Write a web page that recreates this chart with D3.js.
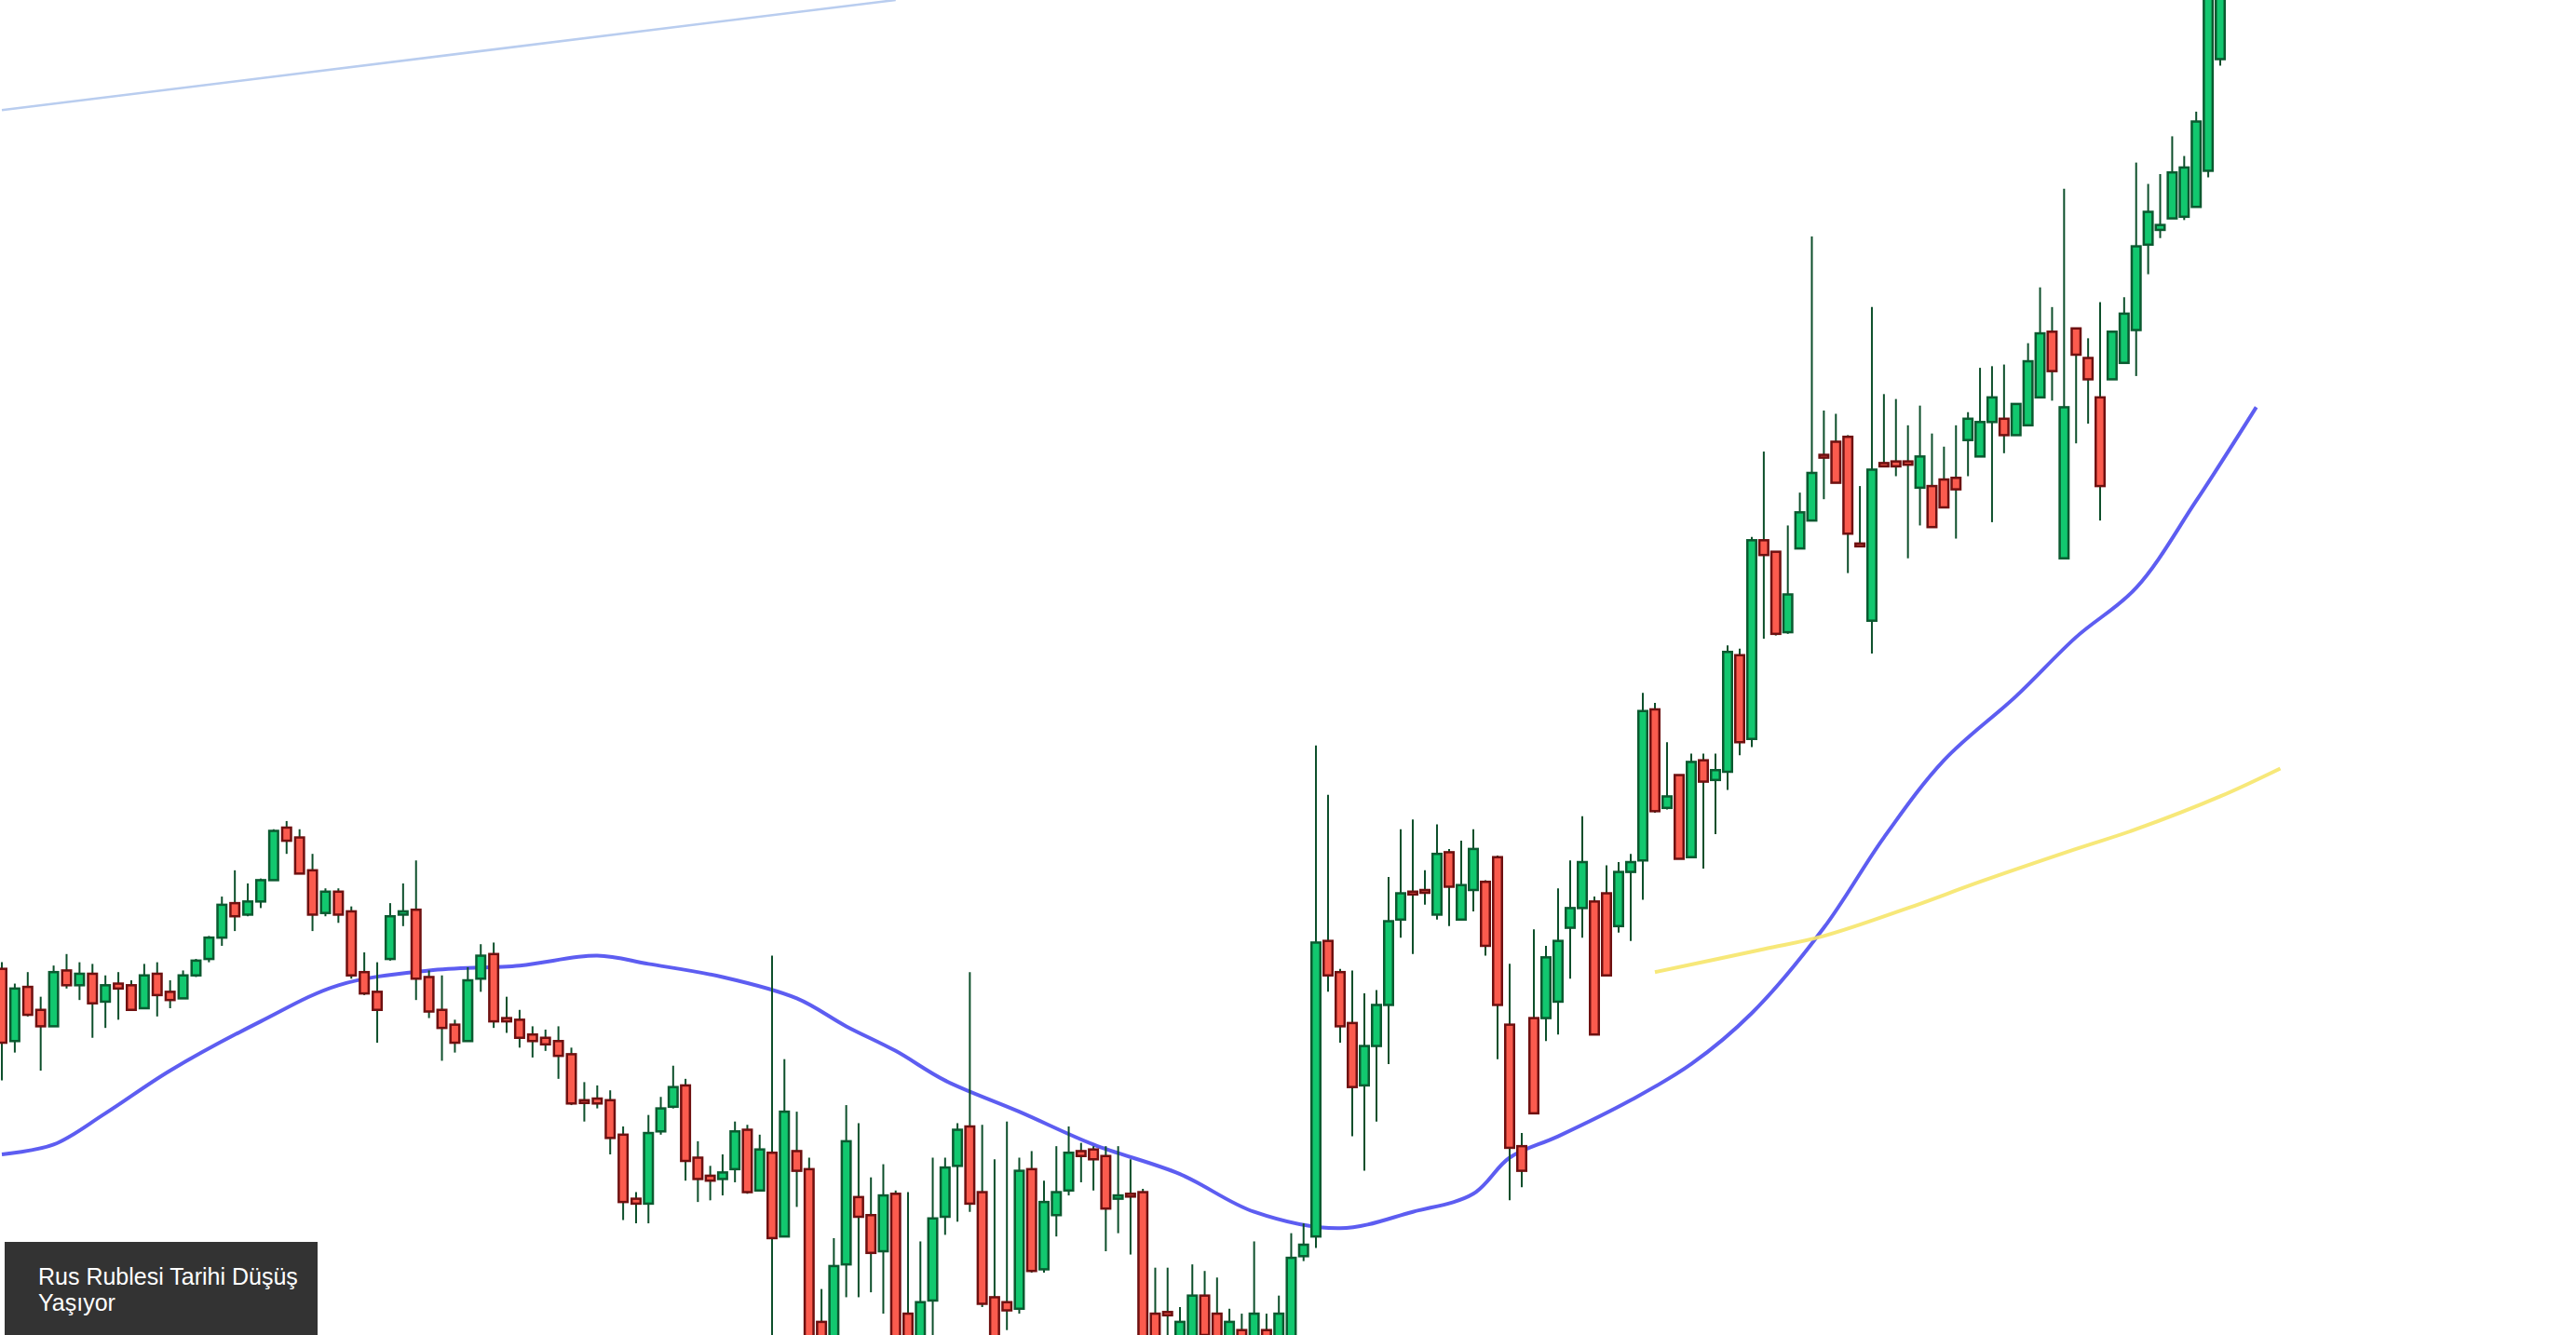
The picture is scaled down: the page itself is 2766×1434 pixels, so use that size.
<!DOCTYPE html>
<html>
<head>
<meta charset="utf-8">
<script src="https://cdn.jsdelivr.net/npm/d3@7"></script>
<style>
  html, body { margin: 0; padding: 0; background: #fff; overflow: hidden; }
  svg { display: block; }
</style>
</head>
<body>
<svg id="chart" width="2766" height="1434"></svg>
<script>
// daily candles
const opens = [91.0,86.6,89.9,88.5,87.5,90.9,90.0,90.7,89.0,90.1,90.0,88.6,90.7,89.6,89.2,90.6,91.6,92.9,95.0,94.3,
  95.1,96.4,99.6,99.0,97.0,94.4,95.7,94.5,90.8,89.6,91.6,94.3,94.6,90.5,88.5,87.6,86.6,90.4,91.9,88.0,
  87.9,87.0,86.8,86.6,85.8,83.0,83.1,83.0,80.9,77.0,76.7,81.1,82.6,83.9,79.5,78.4,78.2,78.8,81.2,77.5,
  79.8,74.7,79.9,78.8,69.5,67.0,73.0,77.1,76.0,73.8,77.3,70.0,67.0,70.8,75.9,79.0,81.4,77.4,71.0,70.7,
  70.3,78.8,72.7,76.0,77.5,79.9,80.0,79.6,77.0,77.3,77.4,70.0,70.1,67.0,67.0,71.1,70.0,67.0,69.0,67.0,
  69.0,67.0,68.0,73.5,74.7,92.7,90.8,87.7,83.9,86.3,88.8,94.0,95.7,95.8,94.3,98.1,94.0,95.8,96.3,97.8,
  87.6,80.2,88.0,88.0,89.0,93.5,94.7,95.1,95.6,93.6,96.9,97.6,106.8,100.8,102.8,97.8,103.7,102.5,103.0,110.1,
  105.0,117.1,116.4,111.5,116.6,118.3,122.3,123.1,123.4,116.9,112.2,121.8,121.9,121.9,120.3,120.4,120.8,120.9,123.2,122.2,
  124.3,124.5,123.5,124.1,125.8,129.8,116.0,130.0,128.2,125.8,126.9,127.9,129.9,135.1,136.0,136.7,136.8,137.4,139.6,146.4]
const highs = [91.4,90.1,90.8,89.3,91.2,91.9,91.4,91.3,90.6,90.8,90.3,91.3,91.4,90.3,90.9,91.6,93.0,95.4,97.0,96.2,
  96.5,99.5,100.0,99.5,98.0,95.9,95.9,94.8,92.0,91.4,95.0,96.2,97.6,90.9,90.6,87.9,91.1,92.5,92.6,89.3,
  88.5,87.5,87.3,87.5,86.2,84.1,83.9,83.6,81.4,77.4,82.1,83.2,85.1,84.3,80.5,79.0,79.7,81.7,81.5,80.9,
  91.8,85.5,82.3,79.5,71.5,74.6,82.7,81.6,78.3,79.1,77.5,77.4,74.4,79.5,79.5,81.6,90.8,81.5,79.4,81.7,
  79.5,79.9,78.1,80.2,81.4,80.4,80.2,80.2,80.2,79.4,77.6,72.8,72.8,70.4,73.0,72.6,72.2,70.3,70.0,74.4,
  70.0,71.1,74.9,75.5,104.6,101.6,91.0,90.9,89.5,89.7,96.6,99.5,100.1,97.0,99.8,98.3,98.8,99.5,96.4,97.9,
  91.3,81.0,93.4,92.4,95.9,97.6,100.3,95.4,97.3,97.5,98.0,107.8,107.2,104.8,102.8,104.1,104.1,104.1,110.7,110.5,
  117.3,122.5,116.4,118.0,120.0,135.6,125.0,124.8,123.5,120.4,131.3,126.0,125.7,124.1,125.3,123.6,122.8,124.1,124.9,127.6,
  127.7,127.8,125.4,129.1,132.5,131.3,138.5,130.0,129.4,131.6,129.8,131.9,140.1,138.8,139.4,141.7,140.5,143.2,154.0,155.0]
const lows = [84.2,85.9,88.1,84.8,87.5,89.8,89.1,86.8,87.4,87.9,88.5,88.6,88.1,88.6,89.2,90.5,91.4,92.4,93.3,94.2,
  94.7,96.4,98.0,96.8,93.3,94.2,93.8,90.4,89.4,86.5,91.5,93.6,89.1,88.0,85.4,85.9,86.6,89.6,87.4,87.1,
  86.2,85.6,86.0,84.3,82.7,81.7,82.5,79.7,75.7,75.5,75.5,80.9,82.5,78.1,76.8,76.9,77.2,78.0,77.3,77.5,
  68.5,74.7,76.5,66.5,65.5,66.0,71.0,71.0,71.3,70.0,66.0,65.0,66.0,68.7,74.8,75.6,76.2,70.4,66.0,69.0,
  70.0,72.5,72.5,74.7,77.2,78.0,77.5,73.8,74.9,73.6,66.0,66.0,68.7,66.0,66.0,67.5,66.0,66.0,65.0,66.0,
  65.0,66.0,67.0,73.2,74.0,89.6,86.5,80.8,78.7,81.7,85.2,92.9,91.9,94.9,94.0,93.6,94.0,94.5,91.8,85.5,
  76.9,77.7,82.2,86.6,87.0,90.4,92.9,87.0,90.6,93.2,92.7,95.2,100.5,100.7,97.7,97.8,97.1,99.2,101.9,104.0,
  104.5,111.1,111.3,111.4,116.6,118.3,119.6,120.6,115.1,116.8,110.2,121.6,121.0,116.0,118.0,117.9,119.1,117.2,121.0,122.2,
  118.2,122.4,123.5,124.1,125.8,125.6,116.0,123.0,124.2,118.3,126.9,127.9,127.1,133.3,135.5,136.7,136.6,137.4,139.2,146.0]
const closes = [86.5,89.8,88.2,87.5,90.8,90.0,90.7,88.9,90.0,89.8,88.5,90.6,89.4,89.1,90.6,91.5,92.9,94.9,94.2,95.1,
  96.4,99.4,98.8,96.8,94.3,95.7,94.3,90.6,89.5,88.5,94.2,94.5,90.4,88.4,87.4,86.5,90.3,91.8,87.8,87.8,
  86.8,86.6,86.4,85.7,82.8,82.9,82.8,80.7,76.8,76.7,81.0,82.5,83.8,79.3,78.2,78.1,78.6,81.1,77.4,80.0,
  74.6,82.3,78.7,67.5,66.5,72.9,80.5,75.9,73.7,77.2,67.0,66.0,70.7,75.8,78.9,81.2,76.7,70.6,67.0,70.2,
  78.7,72.6,76.8,77.4,79.8,79.6,79.4,76.4,77.2,77.2,67.0,67.0,69.9,69.5,71.1,68.7,67.0,69.5,66.0,70.0,
  66.0,70.0,73.4,74.2,92.6,90.6,87.5,83.8,86.3,88.8,93.9,95.6,95.6,95.7,98.0,96.0,96.1,98.3,92.4,88.8,
  80.1,78.7,82.2,91.7,92.7,94.7,97.5,87.0,90.6,96.9,97.5,106.7,100.6,101.5,97.7,103.6,102.4,103.1,110.3,104.8,
  117.1,116.2,111.4,113.8,118.8,121.2,122.2,120.6,117.5,116.8,121.4,121.6,121.6,121.7,122.2,117.9,119.1,120.2,124.5,124.3,
  125.8,123.5,125.4,128.0,129.7,127.4,125.2,128.4,126.9,120.4,129.8,130.9,135.0,137.1,136.3,139.5,139.8,142.6,152.0,153.0]

// moving average lines (candle index, value)
const maSlowIdx = [0,4,8,13,20,26,33,40,46,50,56,62,66,70,74,80,86,93,99,106,112,117,120,124,130,135,140,146,151,156,162,167,172,177,182]
const maSlow = [79.7,80.3,82.2,84.8,87.8,90.0,90.9,91.2,91.8,91.3,90.5,89.2,87.5,86.0,84.2,82.3,80.3,78.5,76.2,75.2,
  76.2,77.3,79.5,80.8,83.0,85.2,88.3,93.5,99.0,103.7,107.6,111.2,114.2,119.5,125.2]
const maLongIdx = [132,141,146,153,159,167,172,179,184]
const maLong = [90.8,92.2,93.0,94.7,96.3,98.3,99.5,101.5,103.2]
const trendIdx = [0, 70]
const trend = [143.3, 150.0]

const title = ['Rus Rublesi Tarihi Düşüş', 'Yaşıyor']

const W = 2766
const H = 1434
const svg = d3.select('#chart')

// candle spacing is not quite even across the picture
const x = d3.scaleLinear().domain([0, 49, 104, 140, 179]).range([2, 683, 1413, 1881, 2384])
const y = d3.scaleLinear().domain([150, 68.7]).range([0, H])

const candles = opens.map((o, i) => ({ i, o, h: highs[i], l: lows[i], c: closes[i] }))
const bodyW = 9.5

const line = d3.line().x((d) => x(d[0])).y((d) => y(d[1])).curve(d3.curveCatmullRom)

// faint trend line
svg.append('path')
  .datum(d3.zip(trendIdx, trend))
  .attr('d', d3.line().x((d) => x(d[0])).y((d) => y(d[1])))
  .attr('fill', 'none').attr('stroke', '#b9cdef').attr('stroke-width', 2.5)

// moving averages
svg.append('path')
  .datum(d3.zip(maSlowIdx, maSlow))
  .attr('d', line)
  .attr('fill', 'none').attr('stroke', '#4b4bf0').attr('stroke-width', 4).attr('opacity', 0.9)

svg.append('path')
  .datum(d3.zip(maLongIdx, maLong))
  .attr('d', line)
  .attr('fill', 'none').attr('stroke', '#f6e56a').attr('stroke-width', 4).attr('opacity', 0.9)

// candles
const g = svg.append('g')
const candle = g.selectAll('.candle').data(candles).enter().append('g')
  .classed('candle', true)

candle.append('line')
  .attr('x1', (d) => x(d.i)).attr('x2', (d) => x(d.i))
  .attr('y1', (d) => y(d.h)).attr('y2', (d) => y(d.l))
  .attr('stroke', '#0d4f2b').attr('stroke-width', 2)

candle.append('rect')
  .attr('x', (d) => x(d.i) - bodyW / 2)
  .attr('width', bodyW)
  .attr('y', (d) => y(Math.max(d.o, d.c)))
  .attr('height', (d) => Math.max(3, Math.abs(y(d.o) - y(d.c))))
  .attr('fill', (d) => d.c >= d.o ? '#12c86f' : '#fb5b4e')
  .attr('stroke', (d) => d.c >= d.o ? '#0b5a30' : '#6e1010')
  .attr('stroke-width', 2.5)

// label box
svg.append('rect')
  .attr('x', 5).attr('y', 1334).attr('width', 336).attr('height', 100)
  .attr('fill', '#333333')

svg.append('text')
  .attr('x', 41).attr('y', 1380)
  .attr('fill', '#fff')
  .style('font-family', '"Liberation Sans", Arial, sans-serif')
  .style('font-size', '25px')
  .selectAll('tspan').data(title).enter().append('tspan')
  .attr('x', 41)
  .attr('dy', (d, i) => i ? 28 : 0)
  .text((d) => d)
</script>
</body>
</html>
